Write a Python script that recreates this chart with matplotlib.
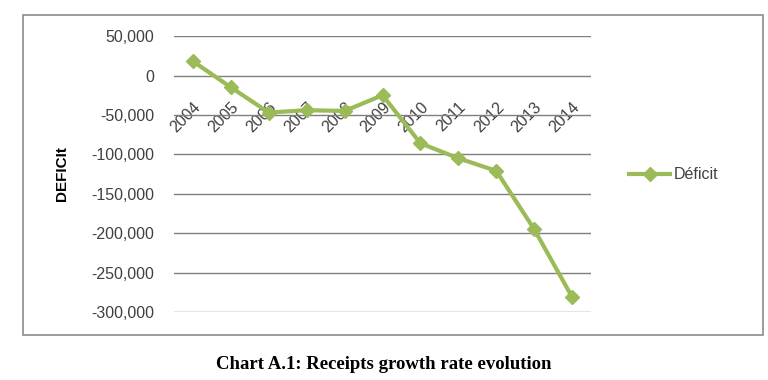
import matplotlib
matplotlib.use("Agg")
import matplotlib.pyplot as plt
from matplotlib.patches import Rectangle

years = ["2004", "2005", "2006", "2007", "2008", "2009",
         "2010", "2011", "2012", "2013", "2014"]
deficit = [18000, -15000, -47000, -44000, -45000, -25000,
           -86000, -105000, -121000, -195000, -281000]
yticks = [50000, 0, -50000, -100000, -150000, -200000, -250000, -300000]

green = "#9BBB59"
txt = "#404040"

plt.rcParams['font.family'] = ['Liberation Sans', 'DejaVu Sans']

fig = plt.figure(figsize=(7.68, 3.8), dpi=100)
# outer chart frame
fig.patches.append(Rectangle((0.030, 0.118), 0.9635, 0.842, transform=fig.transFigure,
                             fill=False, edgecolor="#8c8c8c", linewidth=1.2))

ax = fig.add_axes([0.2266, 0.179, 0.543, 0.726])
x = list(range(len(years)))
ax.plot(x, deficit, color=green, linewidth=3, marker="D", markersize=7,
        label="Déficit", zorder=3)

ax.set_xlim(-0.5, len(years) - 0.5)
ax.set_ylim(-300000, 50000)
ax.set_yticks(yticks)
ax.set_yticklabels(["{:,}".format(v) for v in yticks], fontsize=11.5, color=txt)
ax.yaxis.grid(True, color="#7f7f7f", linewidth=1)
ax.set_axisbelow(True)
for s in ax.spines.values():
    s.set_visible(False)
ax.tick_params(axis="y", length=0, pad=14)

# category labels hang off the zero line
ax.spines["bottom"].set_position(("data", 0))
ax.set_xticks(x)
ax.set_xticklabels(years, rotation=45, ha="right", rotation_mode="anchor",
                   fontsize=11.5, color=txt)
ax.tick_params(axis="x", length=0, pad=17)

ax.set_ylabel("DEFICIt", fontsize=11, fontweight="bold", color="black", labelpad=16)

fig.legend(loc="center left", bbox_to_anchor=(0.80, 0.54), frameon=False,
           fontsize=11.5, handlelength=2.6, handletextpad=0.2,
           labelcolor=txt)

fig.text(0.5, 0.042, "Chart A.1: Receipts growth rate evolution",
         ha="center", va="center", fontsize=13.5, fontweight="bold",
         family=["Liberation Serif", "DejaVu Serif"])

fig.savefig("out.png", dpi=100)
